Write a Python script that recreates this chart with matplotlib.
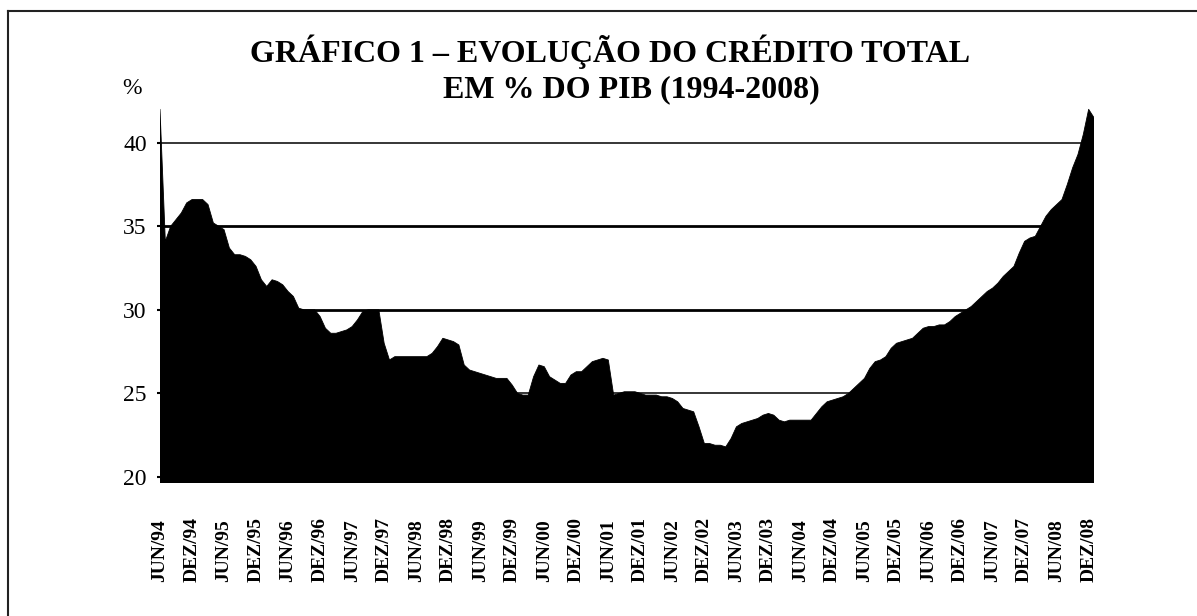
import matplotlib
matplotlib.use("Agg")
import matplotlib.pyplot as plt
from matplotlib.lines import Line2D
import numpy as np

plt.rcParams['font.family'] = ['Liberation Serif', 'DejaVu Serif']

# credito total em % do PIB, mensal de jun/94 em diante
credito = [
    42.0, 34.1, 35.0, 35.4, 35.8, 36.4, 36.6, 36.6, 36.6, 36.3,
    35.2, 35.0, 34.8, 33.7, 33.3, 33.3, 33.2, 33.0, 32.6, 31.8,
    31.4, 31.8, 31.7, 31.5, 31.1, 30.8, 30.1, 30.0, 30.0, 30.0,
    29.6, 28.9, 28.6, 28.6, 28.7, 28.8, 29.0, 29.4, 29.9, 30.0,
    30.0, 30.0, 28.0, 27.0, 27.2, 27.2, 27.2, 27.2, 27.2, 27.2,
    27.2, 27.4, 27.8, 28.3, 28.2, 28.1, 27.9, 26.7, 26.4, 26.3,
    26.2, 26.1, 26.0, 25.9, 25.9, 25.9, 25.5, 25.0, 24.9, 24.9,
    26.0, 26.7, 26.6, 26.0, 25.8, 25.6, 25.6, 26.1, 26.3, 26.3,
    26.6, 26.9, 27.0, 27.1, 27.0, 24.9, 25.0, 25.1, 25.1, 25.1,
    25.0, 24.9, 24.9, 24.9, 24.8, 24.8, 24.7, 24.5, 24.1, 24.0,
    23.9, 23.0, 22.0, 22.0, 21.9, 21.9, 21.8, 22.3, 23.0, 23.2,
    23.3, 23.4, 23.5, 23.7, 23.8, 23.7, 23.4, 23.3, 23.4, 23.4,
    23.4, 23.4, 23.4, 23.8, 24.2, 24.5, 24.6, 24.7, 24.8, 25.0,
    25.3, 25.6, 25.9, 26.5, 26.9, 27.0, 27.2, 27.7, 28.0, 28.1,
    28.2, 28.3, 28.6, 28.9, 29.0, 29.0, 29.1, 29.1, 29.3, 29.6,
    29.8, 30.0, 30.2, 30.5, 30.8, 31.1, 31.3, 31.6, 32.0, 32.3,
    32.6, 33.4, 34.1, 34.3, 34.4, 35.0, 35.6, 36.0, 36.3, 36.6,
    37.5, 38.5, 39.3, 40.5, 42.0, 41.5,
]

rotulos = [
    'JUN/94', 'DEZ/94', 'JUN/95', 'DEZ/95', 'JUN/96', 'DEZ/96',
    'JUN/97', 'DEZ/97', 'JUN/98', 'DEZ/98', 'JUN/99', 'DEZ/99',
    'JUN/00', 'DEZ/00', 'JUN/01', 'DEZ/01', 'JUN/02', 'DEZ/02',
    'JUN/03', 'DEZ/03', 'JUN/04', 'DEZ/04', 'JUN/05', 'DEZ/05',
    'JUN/06', 'DEZ/06', 'JUN/07', 'DEZ/07', 'JUN/08', 'DEZ/08',
]
y_ticks = [20, 25, 30, 35, 40]

W, H = 1197, 616
fig = plt.figure(figsize=(W / 100, H / 100), dpi=100)
ax = fig.add_axes([160 / W, 133 / H, 934 / W, (483 - 104.3) / H])

n = len(credito)
meses = np.arange(n)
ax.fill_between(meses, credito, 0, color='black', lw=0.6, edgecolor='black')
ax.set_xlim(0, n - 1)
ax.set_ylim(19.64, 42.3)

# linhas de grade horizontais
ax.set_yticks(y_ticks)
ax.set_axisbelow(True)
ax.yaxis.grid(True, color='black', lw=1.1)
for val, gl in zip(y_ticks, ax.get_ygridlines()):
    if val in (30, 35):
        gl.set_linewidth(2.0)

ax.tick_params(axis='y', direction='out', length=2.5, width=1.5,
               pad=7, labelsize=17)

# rotulos do eixo x, a cada 6 meses
ax.set_xticks(np.arange(0, 6 * len(rotulos), 6), rotulos)
ax.tick_params(axis='x', length=0, pad=71, labelsize=14, rotation=90)
for lbl in ax.get_xticklabels():
    lbl.set_fontweight('bold')
    lbl.set_verticalalignment('bottom')

for s in ax.spines.values():
    s.set_visible(False)

fig.text(132 / W, 1 - 88 / H, '%', ha='center', va='center', fontsize=17)
fig.text(610 / W, 1 - 62 / H, 'GRÁFICO 1 – EVOLUÇÃO DO CRÉDITO TOTAL',
         ha='center', va='baseline', fontsize=23, fontweight='bold')
fig.text(631 / W, 1 - 97 / H, 'EM % DO PIB (1994-2008)',
         ha='center', va='baseline', fontsize=23, fontweight='bold')

# moldura (so topo e lado esquerdo aparecem)
fig.add_artist(Line2D([8 / W, 1.0], [1 - 11 / H, 1 - 11 / H],
                      color='#222222', lw=1.5))
fig.add_artist(Line2D([8 / W, 8 / W], [1 - 11 / H, 0.0],
                      color='#222222', lw=1.5))

fig.savefig('out.png', dpi=100)
